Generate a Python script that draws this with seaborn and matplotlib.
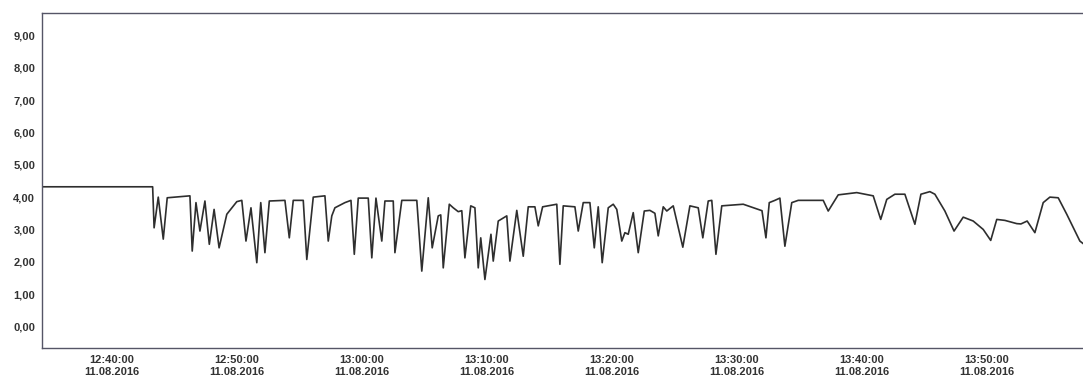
import matplotlib
matplotlib.use("Agg")
import matplotlib.pyplot as plt
import pandas as pd
import seaborn as sns

day = "2016-08-11"

times = [
    "12:34:24", "12:43:15", "12:43:22", "12:43:42", "12:44:06", "12:44:25", "12:46:14", "12:46:25",
    "12:46:43", "12:47:02", "12:47:26", "12:47:47", "12:48:10", "12:48:34", "12:49:11", "12:49:59",
    "12:50:23", "12:50:43", "12:51:07", "12:51:35", "12:51:54", "12:52:14", "12:52:35", "12:53:50",
    "12:54:11", "12:54:30", "12:55:18", "12:55:35", "12:56:06", "12:57:02", "12:57:18", "12:57:35",
    "12:57:50", "12:58:38", "12:59:07", "12:59:23", "12:59:42", "13:00:30", "13:00:47", "13:01:07",
    "13:01:35", "13:01:50", "13:02:30", "13:02:38", "13:03:11", "13:04:23", "13:04:47", "13:05:18",
    "13:05:37", "13:06:06", "13:06:18", "13:06:30", "13:06:59", "13:07:18", "13:07:42", "13:07:59",
    "13:08:14", "13:08:42", "13:09:02", "13:09:18", "13:09:30", "13:09:50", "13:10:19", "13:10:30",
    "13:10:54", "13:11:35", "13:11:50", "13:12:23", "13:12:54", "13:13:18", "13:13:50", "13:14:06",
    "13:14:27", "13:15:35", "13:15:50", "13:16:06", "13:17:02", "13:17:18", "13:17:42", "13:18:14",
    "13:18:35", "13:18:54", "13:19:13", "13:19:42", "13:20:06", "13:20:23", "13:20:47", "13:21:02",
    "13:21:18", "13:21:42", "13:22:06", "13:22:35", "13:23:02", "13:23:26", "13:23:42", "13:24:06",
    "13:24:23", "13:24:54", "13:25:40", "13:26:14", "13:26:54", "13:27:16", "13:27:42", "13:27:59",
    "13:28:19", "13:28:47", "13:30:30", "13:31:42", "13:32:00", "13:32:19", "13:32:35", "13:33:02",
    "13:33:26", "13:33:50", "13:34:23", "13:34:54", "13:36:54", "13:37:18", "13:38:06", "13:39:35",
    "13:40:54", "13:41:30", "13:41:59", "13:42:38", "13:43:26", "13:44:14", "13:44:43", "13:45:26",
    "13:45:50", "13:46:38", "13:47:22", "13:48:06", "13:48:54", "13:49:42", "13:50:18", "13:50:47",
    "13:51:26", "13:52:23", "13:52:43", "13:53:13", "13:53:50", "13:54:30", "13:55:02", "13:55:42",
    "13:56:23", "13:57:26", "13:58:14",
]

values = [
    4.32, 4.32, 3.05, 4.00, 2.70, 3.98, 4.04, 2.33,
    3.83, 2.95, 3.88, 2.54, 3.62, 2.43, 3.47, 3.86,
    3.90, 2.64, 3.67, 1.97, 3.83, 2.28, 3.88, 3.90,
    2.74, 3.90, 3.90, 2.07, 4.00, 4.04, 2.64, 3.42,
    3.67, 3.83, 3.90, 2.23, 3.97, 3.97, 2.12, 3.97,
    2.64, 3.88, 3.88, 2.28, 3.90, 3.90, 1.71, 3.98,
    2.43, 3.42, 3.45, 1.81, 3.78, 3.67, 3.55, 3.58,
    2.12, 3.73, 3.67, 1.81, 2.74, 1.45, 2.85, 2.02,
    3.26, 3.42, 2.02, 3.59, 2.17, 3.70, 3.70, 3.11,
    3.70, 3.78, 1.92, 3.73, 3.70, 2.95, 3.83, 3.83,
    2.43, 3.70, 1.97, 3.67, 3.78, 3.62, 2.64, 2.90,
    2.85, 3.52, 2.28, 3.57, 3.59, 3.50, 2.80, 3.70,
    3.57, 3.73, 2.45, 3.73, 3.67, 2.74, 3.88, 3.90,
    2.23, 3.73, 3.78, 3.62, 3.58, 2.74, 3.83, 3.90,
    3.97, 2.48, 3.83, 3.90, 3.90, 3.57, 4.07, 4.14,
    4.04, 3.31, 3.93, 4.09, 4.09, 3.16, 4.09, 4.17,
    4.09, 3.57, 2.95, 3.38, 3.26, 3.00, 2.66, 3.31,
    3.28, 3.18, 3.17, 3.26, 2.90, 3.83, 4.00, 3.98,
    3.47, 2.64, 2.40,
]

y_ticks = [0, 1, 2, 3, 4, 5, 6, 7, 8, 9]
x_ticks = ["12:40", "12:50", "13:00", "13:10", "13:20", "13:30", "13:40", "13:50"]

df = pd.DataFrame({"time": pd.to_datetime([f"{day} {t}" for t in times]), "value": values})

sns.set_style("white")
plt.rcParams["font.family"] = ["Liberation Sans", "DejaVu Sans"]

fig = plt.figure(figsize=(10.83, 3.76), dpi=100)
ax = fig.add_axes([0.0388, 0.0745, 0.9612, 0.8918])
sns.lineplot(data=df, x="time", y="value", ax=ax, color="#2e2e2e", linewidth=1.2)

ax.set_xlim(pd.Timestamp(f"{day} 12:34:24"), pd.Timestamp(f"{day} 13:57:41"))
ax.set_ylim(-0.67, 9.71)

ax.set_yticks(y_ticks)
ax.set_yticklabels([f"{v:.2f}".replace(".", ",") for v in y_ticks])
xt = pd.to_datetime([f"{day} {t}" for t in x_ticks])
ax.set_xticks(xt)
ax.set_xticklabels([t.strftime("%H:%M:%S\n%d.%m.%Y") for t in xt])

ax.tick_params(axis="both", labelsize=8, colors="#333333", length=2, pad=3)
for lab in ax.get_xticklabels() + ax.get_yticklabels():
    lab.set_fontweight("bold")
ax.set_xlabel("")
ax.set_ylabel("")
ax.spines["right"].set_visible(False)
for s in ["left", "top", "bottom"]:
    ax.spines[s].set_color("#555566")
    ax.spines[s].set_linewidth(1.0)

fig.savefig("out.png", dpi=100)
plt.close(fig)
